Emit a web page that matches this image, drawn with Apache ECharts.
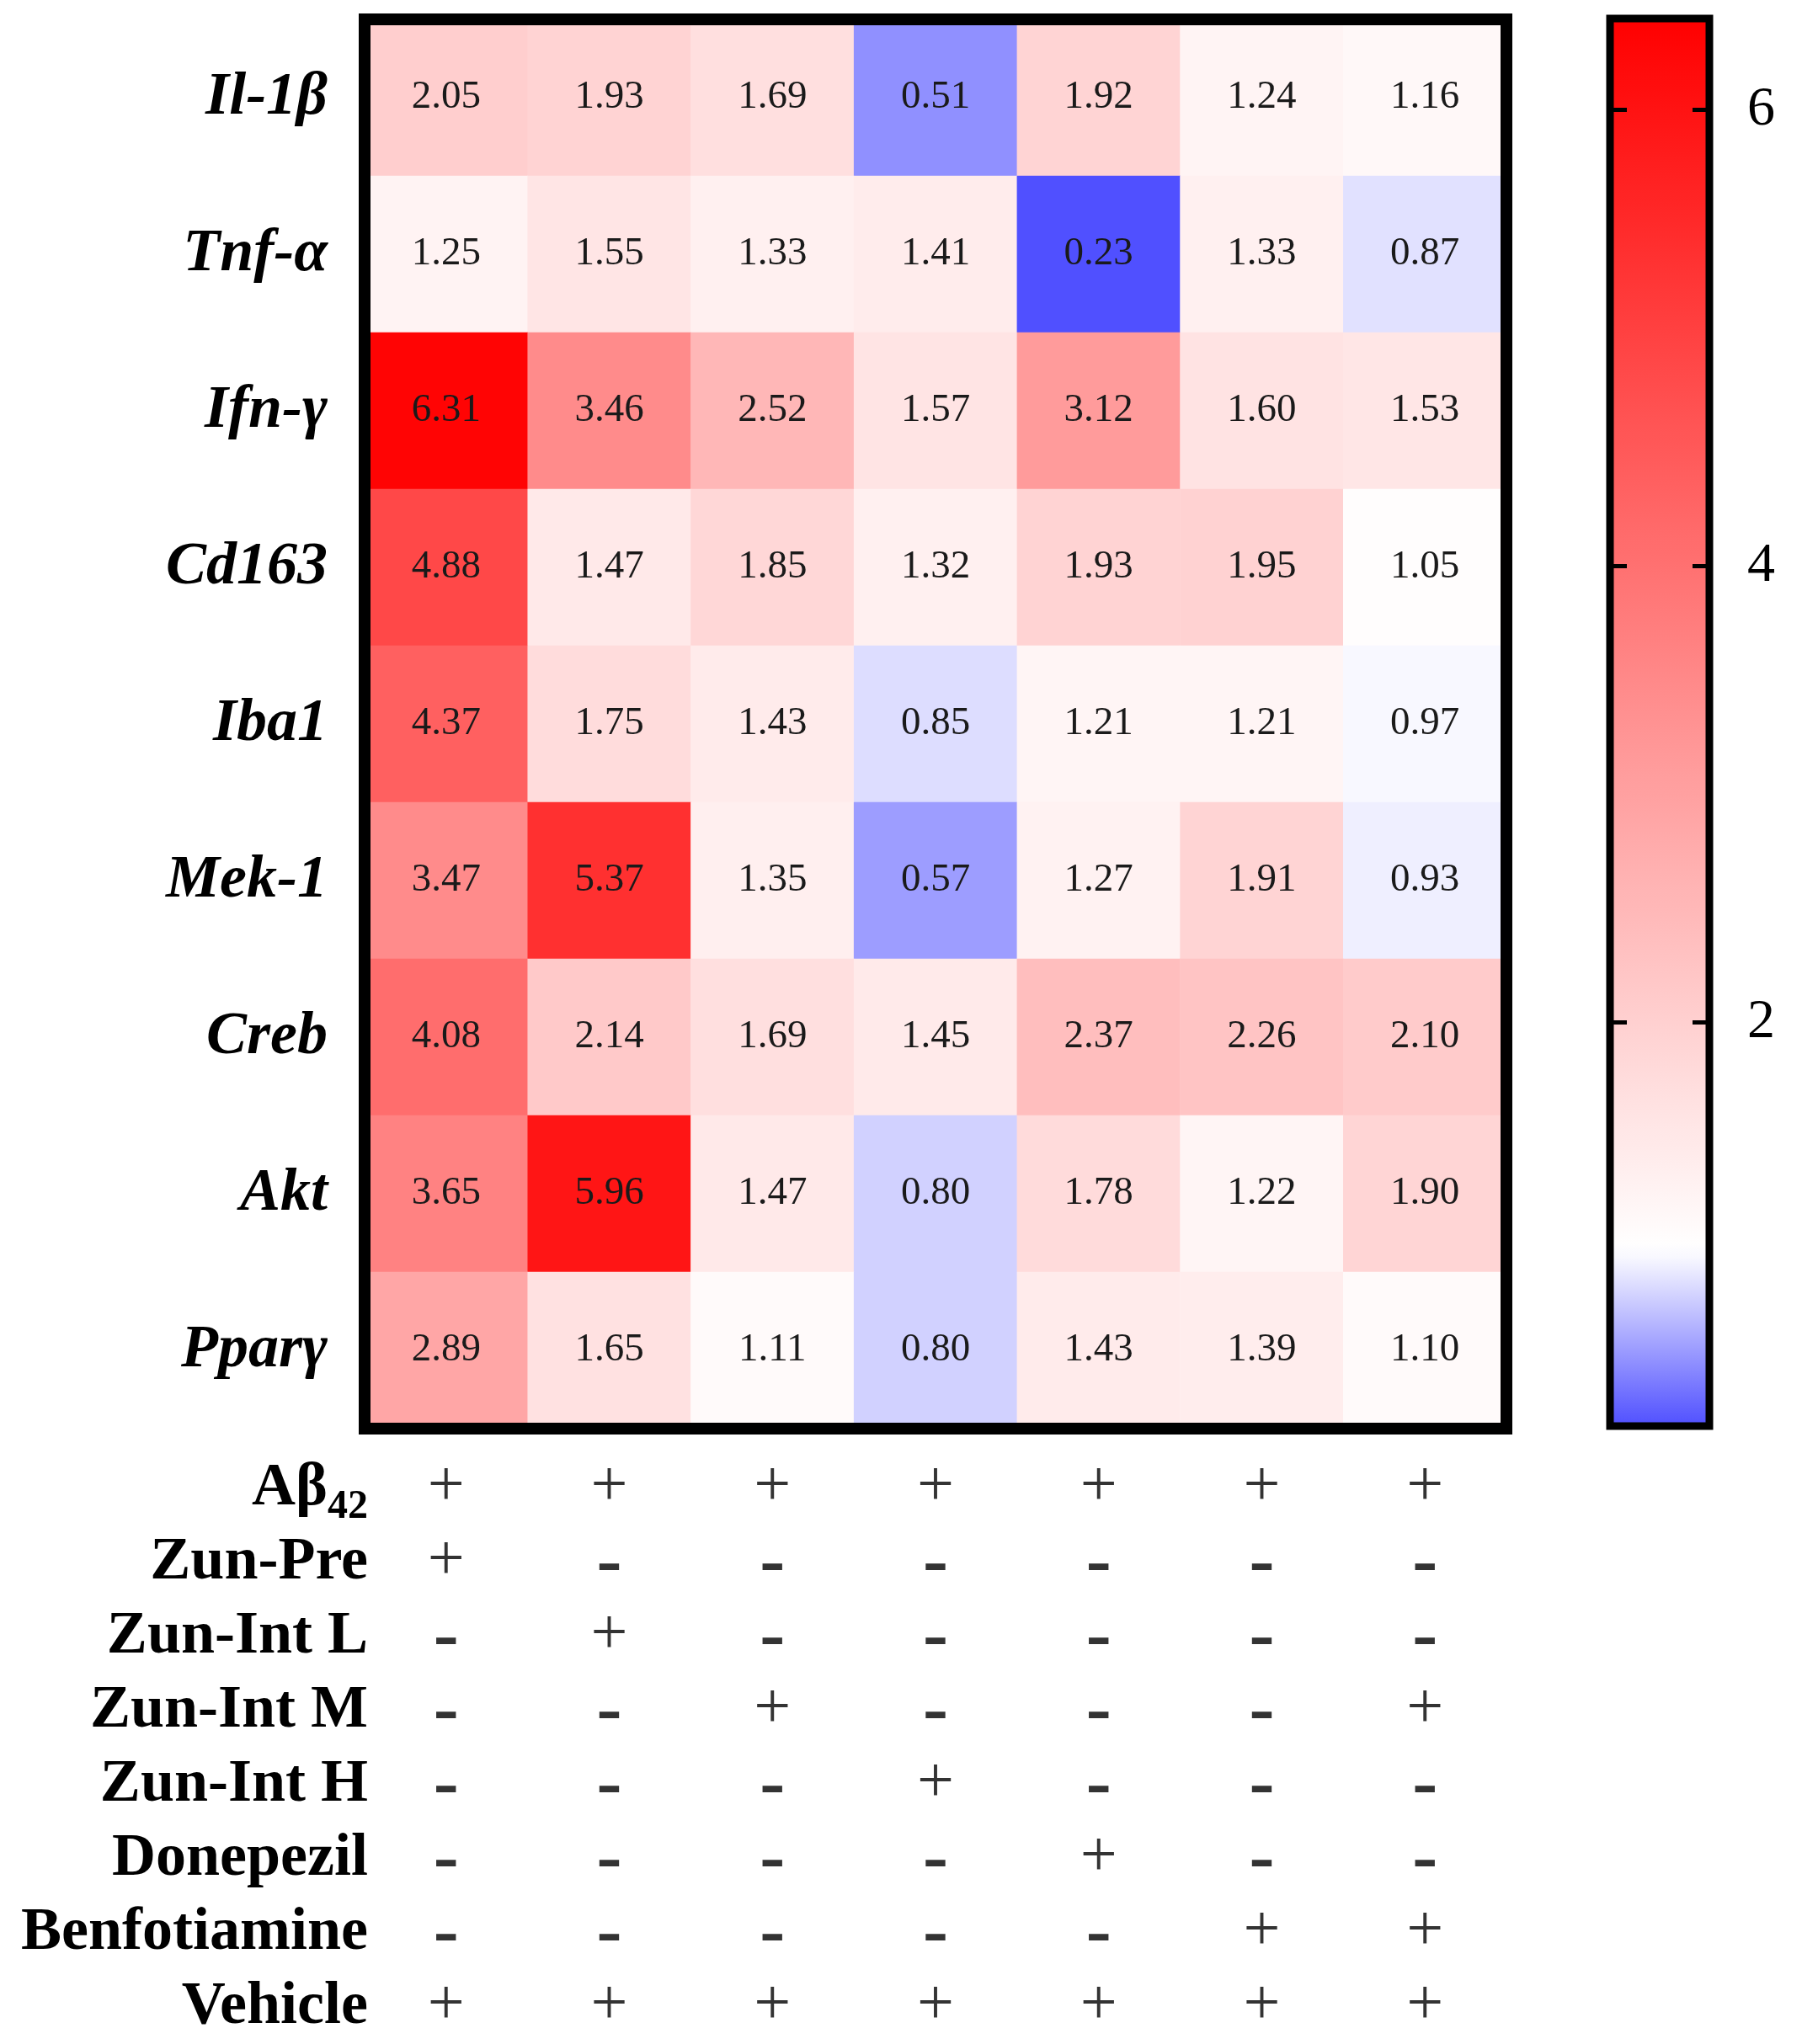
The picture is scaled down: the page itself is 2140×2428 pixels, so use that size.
<!DOCTYPE html>
<html>
<head>
<meta charset="utf-8">
<script src="https://cdn.jsdelivr.net/npm/echarts@6/dist/echarts.min.js"></script>
<style>
html, body { margin: 0; padding: 0; background: #fff; }
#chart { width: 2140px; height: 2428px; }
</style>
</head>
<body>
<div id="chart"></div>
<script>
// row labels (genes) and column groups
var genes = ['Il-1β', 'Tnf-α', 'Ifn-γ', 'Cd163', 'Iba1', 'Mek-1', 'Creb', 'Akt', 'Pparγ'];
var groups = ['G1', 'G2', 'G3', 'G4', 'G5', 'G6', 'G7'];

// fold change per gene, one value per group
var il1b  = [2.05, 1.93, 1.69, 0.51, 1.92, 1.24, 1.16];
var tnfa  = [1.25, 1.55, 1.33, 1.41, 0.23, 1.33, 0.87];
var ifng  = [6.31, 3.46, 2.52, 1.57, 3.12, 1.60, 1.53];
var cd163 = [4.88, 1.47, 1.85, 1.32, 1.93, 1.95, 1.05];
var iba1  = [4.37, 1.75, 1.43, 0.85, 1.21, 1.21, 0.97];
var mek1  = [3.47, 5.37, 1.35, 0.57, 1.27, 1.91, 0.93];
var creb  = [4.08, 2.14, 1.69, 1.45, 2.37, 2.26, 2.10];
var akt   = [3.65, 5.96, 1.47, 0.80, 1.78, 1.22, 1.90];
var pparg = [2.89, 1.65, 1.11, 0.80, 1.43, 1.39, 1.10];
var geneRows = [il1b, tnfa, ifng, cd163, iba1, mek1, creb, akt, pparg];

// treatment table under the heatmap
var treatments = ['Aβ42', 'Zun-Pre', 'Zun-Int L', 'Zun-Int M', 'Zun-Int H', 'Donepezil', 'Benfotiamine', 'Vehicle'];
var abeta    = ['+', '+', '+', '+', '+', '+', '+'];
var zunPre   = ['+', '-', '-', '-', '-', '-', '-'];
var zunIntL  = ['-', '+', '-', '-', '-', '-', '-'];
var zunIntM  = ['-', '-', '+', '-', '-', '-', '+'];
var zunIntH  = ['-', '-', '-', '+', '-', '-', '-'];
var donep    = ['-', '-', '-', '-', '+', '-', '-'];
var benfo    = ['-', '-', '-', '-', '-', '+', '+'];
var vehicle  = ['+', '+', '+', '+', '+', '+', '+'];
var treatRows = [abeta, zunPre, zunIntL, zunIntM, zunIntH, donep, benfo, vehicle];

// colour bar range and ticks
var scaleMin = 0.23;
var scaleMax = 6.4;
var barTicks = [2, 4, 6];

var serif = 'Liberation Serif';

var heatData = [];
for (var r = 0; r < geneRows.length; r++) {
    for (var c = 0; c < groups.length; c++) {
        heatData.push([c, r, geneRows[r][c]]);
    }
}
var markData = [];
for (var r = 0; r < treatRows.length; r++) {
    for (var c = 0; c < groups.length; c++) {
        markData.push({ value: [c, r], mark: treatRows[r][c] });
    }
}

var myChart = echarts.init(document.getElementById('chart'));

var option = {
    backgroundColor: '#ffffff',
    animation: false,
    grid: [
        // heatmap
        { left: 433, right: 351, top: 23, height: 1674, show: true, borderColor: '#000', borderWidth: 14, z: 3 },
        // treatment table
        { left: 433, right: 351, top: 1724, height: 709 },
        // colour bar axes
        { left: 1912, width: 118, top: 22, height: 1672, show: true, borderColor: '#000', borderWidth: 9, z: 5 }
    ],
    xAxis: [
        {
            type: 'category', gridIndex: 0, data: groups, position: 'bottom',
            axisLine: { show: false },
            axisTick: { alignWithLabel: true, length: 28, lineStyle: { color: '#000', width: 14 } },
            axisLabel: { show: false },
            splitLine: { show: false }
        },
        {
            type: 'category', gridIndex: 1, data: groups, show: false
        },
        {
            type: 'value', gridIndex: 2, min: 0, max: 1, show: false
        }
    ],
    yAxis: [
        {
            type: 'category', gridIndex: 0, data: genes, inverse: true,
            axisLine: { show: false },
            axisTick: { alignWithLabel: true, length: 31, lineStyle: { color: '#000', width: 14 } },
            axisLabel: {
                interval: 0, margin: 44, color: '#000', fontFamily: serif, fontSize: 72,
                fontWeight: 'bold', fontStyle: 'italic'
            },
            splitLine: { show: false }
        },
        {
            type: 'category', gridIndex: 1, data: treatments, inverse: true,
            axisLine: { show: false },
            axisTick: { show: false },
            axisLabel: {
                interval: 0, margin: -4, color: '#000', fontFamily: serif, fontSize: 72, fontWeight: 'bold',
                formatter: function (v) {
                    if (v === 'Aβ42') return '{a|Aβ}{s|42}';
                    return v;
                },
                rich: {
                    a: { fontFamily: serif, fontSize: 72, fontWeight: 'bold', color: '#000', lineHeight: 94 },
                    s: { fontFamily: serif, fontSize: 48, fontWeight: 'bold', color: '#000', verticalAlign: 'bottom' }
                }
            },
            splitLine: { show: false }
        },
        {
            type: 'value', gridIndex: 2, min: scaleMin, max: scaleMax, position: 'left', z: 6,
            axisLine: { show: false },
            axisTick: { inside: true, length: 20, customValues: barTicks, lineStyle: { color: '#000', width: 5 } },
            axisLabel: { show: false },
            splitLine: { show: false }
        },
        {
            type: 'value', gridIndex: 2, min: scaleMin, max: scaleMax, position: 'right', z: 6,
            axisLine: { show: false },
            axisTick: { inside: true, length: 20, customValues: barTicks, lineStyle: { color: '#000', width: 5 } },
            axisLabel: { margin: 45, customValues: barTicks, color: '#000', fontFamily: serif, fontSize: 66 },
            splitLine: { show: false }
        }
    ],
    visualMap: {
        type: 'continuous',
        seriesIndex: 0,
        dimension: 2,
        min: scaleMin,
        max: scaleMax,
        calculable: false,
        hoverLink: false,
        left: 1912,
        top: 22,
        padding: 0,
        itemWidth: 118,
        itemHeight: 1672,
        text: null,
        showLabel: false,
        z: 4,
        inRange: {
            color: ['#5050ff', '#ffffff', '#ffdbdb', '#ffb6b6', '#ff9292', '#ff6d6d', '#ff4949', '#ff2424', '#ff0000']
        }
    },
    series: [
        {
            name: 'fold change',
            type: 'heatmap',
            xAxisIndex: 0,
            yAxisIndex: 0,
            data: heatData,
            itemStyle: { borderWidth: 0 },
            label: {
                show: true,
                color: '#1a1a1a',
                fontFamily: serif,
                fontSize: 47,
                formatter: function (p) { return p.value[2].toFixed(2); }
            },
            emphasis: { disabled: true }
        },
        {
            name: 'treatment',
            type: 'scatter',
            xAxisIndex: 1,
            yAxisIndex: 1,
            data: markData,
            symbolSize: 1,
            itemStyle: { color: 'rgba(0,0,0,0)' },
            label: {
                show: true,
                position: 'inside',
                formatter: function (p) {
                    return p.data.mark === '+' ? '{p|+}' : '{m|-}';
                },
                rich: {
                    p: { fontFamily: serif, fontSize: 78, color: '#000' },
                    m: { fontFamily: serif, fontSize: 90, fontWeight: 'bold', color: '#000', padding: [8, 0, 0, 0] }
                }
            },
            emphasis: { disabled: true }
        }
    ]
};

myChart.setOption(option);
</script>
</body>
</html>
